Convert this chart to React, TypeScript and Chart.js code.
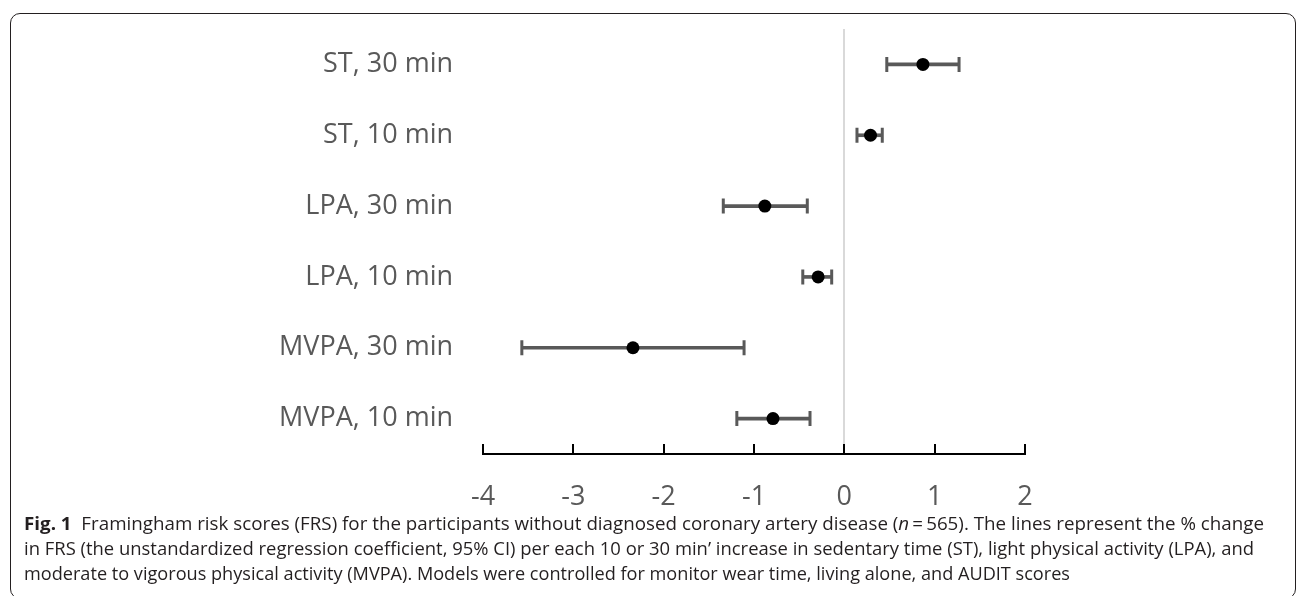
import React, { useEffect, useRef } from 'react';
import { Chart, registerables } from 'chart.js';

Chart.register(...registerables);

const categories = ['ST, 30 min', 'ST, 10 min', 'LPA, 30 min', 'LPA, 10 min', 'MVPA, 30 min', 'MVPA, 10 min'];
const estimates = [0.87, 0.29, -0.88, -0.29, -2.34, -0.79];
const lowerCI = [0.47, 0.14, -1.34, -0.46, -3.57, -1.19];
const upperCI = [1.27, 0.42, -0.41, -0.14, -1.11, -0.38];
const xMin = -4;
const xMax = 2;

const captionLine1 = [
  { text: 'Fig. 1', style: 'bold' },
  { text: '  Framingham risk scores (FRS) for the participants without diagnosed coronary artery disease (', style: 'normal' },
  { text: 'n', style: 'italic' },
  { text: '\u2009=\u2009565). The lines represent the % change', style: 'normal' },
];
const captionLine2 = [
  { text: 'in FRS (the unstandardized regression coefficient, 95% CI) per each 10 or 30 min\u2019 increase in sedentary time (ST), light physical activity (LPA), and', style: 'normal' },
];
const captionLine3 = [
  { text: 'moderate to vigorous physical activity (MVPA). Models were controlled for monitor wear time, living alone, and AUDIT scores', style: 'normal' },
];

const W = 1296;
const H = 596;

export default function App() {
  const ref = useRef<HTMLCanvasElement | null>(null);

  useEffect(() => {
    const canvas = ref.current;
    if (!canvas) return;

    const tickMarks = {
      id: 'tickMarks',
      afterDraw(chart: any) {
        const ctx = chart.ctx;
        const xs = chart.scales.x;
        const bottom = chart.chartArea.bottom;
        ctx.save();
        ctx.strokeStyle = '#000000';
        ctx.lineWidth = 2;
        xs.ticks.forEach((t: any) => {
          const px = Math.round(xs.getPixelForValue(t.value));
          ctx.beginPath();
          ctx.moveTo(px, bottom);
          ctx.lineTo(px, bottom - 10);
          ctx.stroke();
        });
        ctx.restore();
      },
    };

    const caption = {
      id: 'caption',
      afterDraw(chart: any) {
        const ctx = chart.ctx;
        const lines = [
          { segs: captionLine1, x0: 24, x1: 1264, y: 530 },
          { segs: captionLine2, x0: 24, x1: 1254, y: 555 },
          { segs: captionLine3, x0: 24, x1: 1070, y: 580 },
        ];
        const fontFor = (s: string) =>
          s === 'bold' ? 'bold 17.5px "Open Sans"' : s === 'italic' ? 'italic 17.5px "Open Sans"' : '17.5px "Open Sans"';
        ctx.save();
        ctx.fillStyle = '#231f20';
        ctx.textBaseline = 'alphabetic';
        ctx.textAlign = 'left';
        lines.forEach((ln) => {
          let total = 0;
          ln.segs.forEach((sg) => {
            ctx.font = fontFor(sg.style);
            total += ctx.measureText(sg.text).width;
          });
          const sx = (ln.x1 - ln.x0) / total;
          ctx.save();
          ctx.translate(ln.x0, ln.y);
          ctx.scale(sx, 1);
          let cx = 0;
          ln.segs.forEach((sg) => {
            ctx.font = fontFor(sg.style);
            ctx.fillText(sg.text, cx, 0);
            cx += ctx.measureText(sg.text).width;
          });
          ctx.restore();
        });
        ctx.restore();
      },
    };

    const chart = new Chart(canvas, {
      type: 'bar',
      data: {
        labels: categories,
        datasets: [
          {
            type: 'bar',
            data: lowerCI.map((lo, i) => [lo, upperCI[i]]) as any,
            backgroundColor: '#595959',
            borderWidth: 0,
            barThickness: 3,
            order: 3,
          },
          {
            type: 'line',
            data: [
              ...lowerCI.map((v, i) => ({ x: v, y: categories[i] })),
              ...upperCI.map((v, i) => ({ x: v, y: categories[i] })),
            ] as any,
            showLine: false,
            pointStyle: 'line',
            rotation: 90,
            pointRadius: 7.5,
            pointBorderWidth: 3,
            pointBorderColor: '#595959',
            borderColor: '#595959',
            order: 2,
          } as any,
          {
            type: 'line',
            data: estimates.map((v, i) => ({ x: v, y: categories[i] })) as any,
            showLine: false,
            pointStyle: 'circle',
            pointRadius: 6.5,
            pointBorderWidth: 0,
            pointBackgroundColor: '#000000',
            borderColor: '#000000',
            order: 1,
          } as any,
        ],
      },
      options: {
        indexAxis: 'y',
        responsive: false,
        animation: false,
        maintainAspectRatio: false,
        layout: { padding: { top: 29, right: 271, left: 0, bottom: 0 } },
        plugins: { legend: { display: false }, tooltip: { enabled: false } },
        scales: {
          x: {
            type: 'linear',
            min: xMin,
            max: xMax,
            ticks: {
              stepSize: 1,
              color: '#595959',
              font: { family: '"Open Sans"', size: 27 },
              padding: 27,
            },
            grid: {
              drawTicks: false,
              lineWidth: 2,
              color: (c: any) => (c.tick && c.tick.value === 0 ? '#d9d9d9' : 'rgba(0,0,0,0)'),
            },
            border: { display: true, color: '#000000', width: 2 },
            afterFit: (s: any) => {
              s.height = 142;
              s.paddingLeft = 0;
              s.paddingRight = 0;
            },
          },
          y: {
            type: 'category',
            ticks: {
              color: '#595959',
              font: { family: '"Open Sans"', size: 27 },
              padding: 30,
            },
            grid: { display: false, drawTicks: false },
            border: { display: false },
            afterFit: (s: any) => {
              s.width = 483;
              s.paddingTop = 0;
              s.paddingBottom = 0;
            },
          },
        },
      } as any,
      plugins: [tickMarks, caption],
    });

    return () => chart.destroy();
  }, []);

  return (
    <div style={{ position: 'absolute', left: 0, top: 0, width: W, height: H, overflow: 'hidden', background: '#ffffff' }}>
      <div
        style={{
          position: 'absolute',
          left: 10,
          top: 13,
          width: 1286,
          height: 586,
          boxSizing: 'border-box',
          border: '1px solid #231f20',
          borderRadius: 10,
        }}
      />
      <canvas ref={ref} width={W} height={H} style={{ position: 'absolute', left: 0, top: 0, width: W, height: H }} />
    </div>
  );
}
